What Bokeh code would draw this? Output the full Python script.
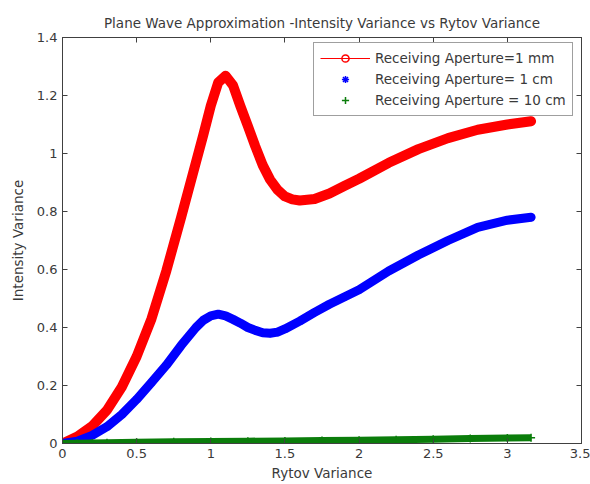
from bokeh.plotting import figure
from bokeh.models import (LinearAxis, FixedTicker, CustomJSTickFormatter, Legend,
                          LegendItem, Range1d)
from bokeh.embed import file_html
from bokeh.resources import INLINE

# ---- data ----
title_text = "Plane Wave Approximation -Intensity Variance vs Rytov Variance"
x_label = "Rytov Variance"
y_label = "Intensity Variance"
series_names = ["Receiving Aperture=1 mm", "Receiving Aperture= 1 cm", "Receiving Aperture = 10 cm"]

x_ticks = [0, 0.5, 1, 1.5, 2, 2.5, 3, 3.5]
y_ticks = [0, 0.2, 0.4, 0.6, 0.8, 1.0, 1.2, 1.4]

rytov_1mm = [0, 0.1, 0.2, 0.3, 0.4, 0.5, 0.6, 0.7, 0.8, 0.9, 0.95, 1.0, 1.05, 1.1, 1.15,
             1.2, 1.25, 1.3, 1.35, 1.4, 1.45, 1.5, 1.55, 1.6, 1.7, 1.8, 1.9, 2.0, 2.2,
             2.4, 2.6, 2.8, 3.0, 3.16]
var_1mm = [0, 0.024, 0.06, 0.115, 0.195, 0.30, 0.43, 0.595, 0.78, 0.97, 1.065, 1.165, 1.245, 1.268, 1.235,
           1.163, 1.095, 1.025, 0.96, 0.91, 0.875, 0.852, 0.842, 0.838, 0.843, 0.862, 0.888, 0.913, 0.968,
           1.015, 1.053, 1.082, 1.10, 1.111]

rytov_1cm = [0, 0.1, 0.2, 0.3, 0.4, 0.5, 0.6, 0.7, 0.8, 0.9, 0.95, 1.0, 1.05, 1.1, 1.15,
             1.2, 1.25, 1.3, 1.35, 1.4, 1.45, 1.5, 1.6, 1.7, 1.8, 1.9, 2.0, 2.2, 2.4, 2.6,
             2.8, 3.0, 3.16]
var_1cm = [0, 0.008, 0.028, 0.058, 0.10, 0.152, 0.21, 0.27, 0.338, 0.40, 0.425, 0.44, 0.446, 0.44, 0.428,
           0.415, 0.40, 0.39, 0.382, 0.38, 0.384, 0.395, 0.422, 0.452, 0.48, 0.505, 0.53, 0.595, 0.65, 0.70,
           0.745, 0.77, 0.78]

rytov_10cm = [0, 0.1, 0.2, 0.3, 0.5, 0.75, 1.0, 1.25, 1.5, 1.75, 2.0, 2.25, 2.5, 2.75, 3.0, 3.16]
var_10cm = [0, 0.001, 0.002, 0.003, 0.004, 0.006, 0.007, 0.008, 0.009, 0.010, 0.011, 0.013,
            0.015, 0.017, 0.019, 0.02]

RED = "#ff0000"
BLUE = "#0000ff"
GREEN = "#0b7d0b"
TXT = "#3a3a3a"
AX = "#404040"
FONT = "DejaVu Sans"

p = figure(width=590, height=484, output_backend="svg", toolbar_location=None,
           x_range=Range1d(0, 3.5), y_range=Range1d(0, 1.4),
           min_border_left=62, min_border_right=9, min_border_top=37, min_border_bottom=41,
           title=title_text)
p.background_fill_color = "white"
p.border_fill_color = "white"
p.outline_line_color = AX
p.xgrid.visible = False
p.ygrid.visible = False

p.title.align = "center"
p.title.text_font = FONT
p.title.text_font_size = "13.5px"
p.title.text_font_style = "normal"
p.title.text_color = TXT
p.title.standoff = 13

fmt = CustomJSTickFormatter(code="return String(Math.round(tick*10)/10);")
blank = CustomJSTickFormatter(code="return '';")

def style_axis(ax, ticks, show_labels):
    ax.ticker = FixedTicker(ticks=ticks)
    ax.formatter = fmt if show_labels else blank
    ax.major_tick_in = 5
    ax.major_tick_out = 0
    ax.minor_tick_in = 0
    ax.minor_tick_out = 0
    ax.axis_line_color = AX
    ax.major_tick_line_color = AX
    ax.major_label_text_font = FONT
    ax.major_label_text_color = TXT
    ax.major_label_text_font_size = "13px"
    ax.axis_label_text_font = FONT
    ax.axis_label_text_font_size = "13.5px"
    ax.axis_label_text_font_style = "normal"
    ax.axis_label_text_color = TXT

style_axis(p.xaxis[0], x_ticks, True)
style_axis(p.yaxis[0], y_ticks, True)
p.xaxis[0].axis_label = x_label
p.yaxis[0].axis_label = y_label
p.xaxis[0].major_label_standoff = 5
p.xaxis[0].axis_label_standoff = 4
p.yaxis[0].major_label_standoff = 5
p.yaxis[0].axis_label_standoff = 8

top_ax = LinearAxis()
style_axis(top_ax, x_ticks, False)
top_ax.major_label_standoff = 0
p.add_layout(top_ax, "above")
right_ax = LinearAxis()
style_axis(right_ax, y_ticks, False)
right_ax.major_label_standoff = 0
p.add_layout(right_ax, "right")

# red series: dense circles -> thick band
p.line(rytov_1mm, var_1mm, line_color=RED, line_width=10, line_join="round", line_cap="round")
r_line = p.line(rytov_1mm, var_1mm, line_color=RED, line_width=1)
r_mark = p.scatter(rytov_1mm, var_1mm, marker="circle", size=7, line_color=RED,
                   fill_color=None, line_width=1.5)

# blue series
p.line(rytov_1cm, var_1cm, line_color=BLUE, line_width=9, line_join="round", line_cap="round")
b_mark = p.scatter(rytov_1cm, var_1cm, marker="asterisk", size=8, line_color=BLUE, line_width=1.5)

# green series
p.line(rytov_10cm, var_10cm, line_color=GREEN, line_width=7, line_join="round")
g_mark = p.scatter(rytov_10cm, var_10cm, marker="cross", size=8, line_color=GREEN, line_width=1.5)

legend = Legend(items=[
    LegendItem(label=series_names[0], renderers=[r_line, r_mark]),
    LegendItem(label=series_names[1], renderers=[b_mark]),
    LegendItem(label=series_names[2], renderers=[g_mark]),
], location=(251, 327))
legend.glyph_width = 50
legend.glyph_height = 18
legend.label_height = 18
legend.label_standoff = 5
legend.spacing = 3
legend.padding = 6
legend.margin = 0
legend.label_text_font = FONT
legend.label_text_font_size = "13.5px"
legend.label_text_color = TXT
legend.border_line_color = AX
legend.border_line_width = 1
legend.background_fill_color = "white"
legend.background_fill_alpha = 1
p.add_layout(legend, "center")

open("out.html", "w").write(file_html(p, INLINE))
